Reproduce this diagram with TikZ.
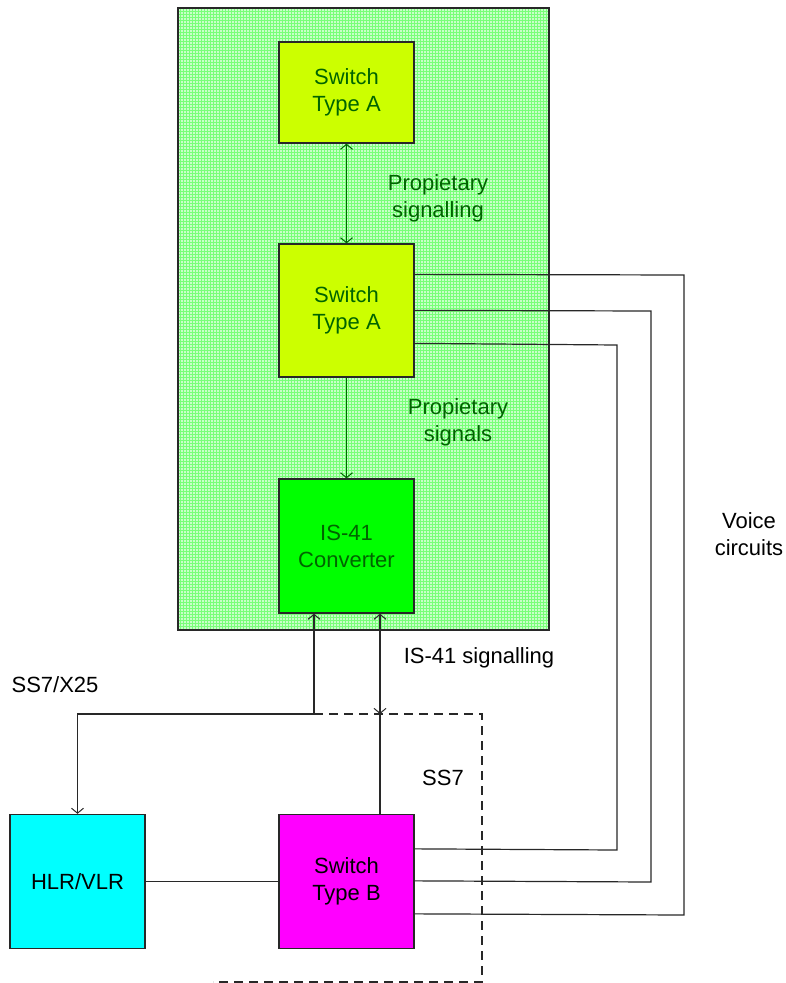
\documentclass[tikz,border=0pt]{standalone}
\usepackage{fontspec}
\setmainfont{Liberation Sans}
\usetikzlibrary{arrows.meta,patterns,calc}
\definecolor{regionbg}{RGB}{200,255,200}
\definecolor{regiongrid}{RGB}{120,255,120}
\definecolor{swa}{RGB}{204,255,0}
\definecolor{convg}{RGB}{0,255,0}
\definecolor{dkgreen}{RGB}{0,100,0}
\definecolor{hlrc}{RGB}{0,255,255}
\definecolor{swbc}{RGB}{255,0,255}
\definecolor{edge}{RGB}{40,40,40}
\tikzset{
  box/.style={draw=edge, line width=1.3pt, minimum width=135pt, align=center,
    inner sep=0pt, font=\fontsize{22pt}{27pt}\selectfont},
  gtext/.style={text=dkgreen, align=center, font=\fontsize{22pt}{27pt}\selectfont},
  btext/.style={text=black, align=center, font=\fontsize{22pt}{27pt}\selectfont},
  conn/.style={draw=edge, line width=1.2pt},
  gconn/.style={draw=dkgreen, line width=1.2pt},
  tip/.tip={Straight Barb[length=5pt,width=12pt,line width=1pt]},
}
\begin{document}
\begin{tikzpicture}[x=1pt,y=-1pt]
\useasboundingbox (0,0) rectangle (786,983);
% region
\path[fill=regionbg] (178,8) rectangle (549,630);
\path[pattern=grid, pattern color=regiongrid] (178,8) rectangle (549,630);
\draw[edge, line width=1.3pt] (178,8) rectangle (549,630);
% boxes
\node[box, fill=swa, minimum height=101pt, text=dkgreen] (sa1) at (346.5,92.5) {Switch\\Type A};
\node[box, fill=swa, minimum height=133pt, text=dkgreen] (sa2) at (346.5,310.5) {Switch\\Type A};
\node[box, fill=convg, minimum height=134pt, text=dkgreen] (conv) at (346.5,546) {IS-41\\Converter};
\node[box, fill=hlrc, minimum height=134pt] (hlr) at (77.5,881.5) {HLR/VLR};
\node[box, fill=swbc, minimum height=134pt] (swb) at (346.5,881.5) {Switch\\Type B};
% labels
\node[gtext] (l1) at (438,198) {Propietary\\signalling};
\node[gtext] (l2) at (458,422) {Propietary\\signals};
\node[btext] (l3) at (479,658) {IS-41 signalling};
\node[btext] (l4) at (55,685) {SS7/X25};
\node[btext] (l5) at (443,778) {SS7};
\node[btext] (l6) at (749,534) {Voice\\circuits};
% green connectors
\draw[gconn, tip-tip] (sa1.south) -- (sa2.north);
\draw[gconn, -tip] (sa2.south) -- (conv.north);
% coordinates
\coordinate (j1) at (314,714);
\coordinate (j2) at (380,714);
\coordinate (d1) at (482,714);
\coordinate (d2) at (482,982);
\coordinate (d3) at (213,982);
% signalling
\draw[conn, -tip] (j1) -- (j1 |- conv.south);
\draw[conn, -tip] (j1) -| (hlr.north);
\draw[conn, tip-tip] (j2) -- (j2 |- conv.south);
\draw[conn] (j2 |- swb.north) -- (j2);
\draw[conn, dashed, dash pattern=on 9pt off 6pt] (j1) -- (d1) -- (d2) -- (d3);
\draw[conn] (hlr.east) -- (swb.west);
% voice circuits
\coordinate (v1a) at ($(sa2.north east)+(0,31)$);
\coordinate (v2a) at ($(sa2.north east)+(0,67)$);
\coordinate (v3a) at ($(sa2.north east)+(0,100)$);
\coordinate (v1b) at ($(swb.north east)+(0,100)$);
\coordinate (v2b) at ($(swb.north east)+(0,67)$);
\coordinate (v3b) at ($(swb.north east)+(0,35)$);
\draw[conn] (v1a) -- (684,275) -- (684,915) -- (v1b);
\draw[conn] (v2a) -- (651,311) -- (651,882) -- (v2b);
\draw[conn] (v3a) -- (617,345) -- (617,850) -- (v3b);
\end{tikzpicture}
\end{document}
